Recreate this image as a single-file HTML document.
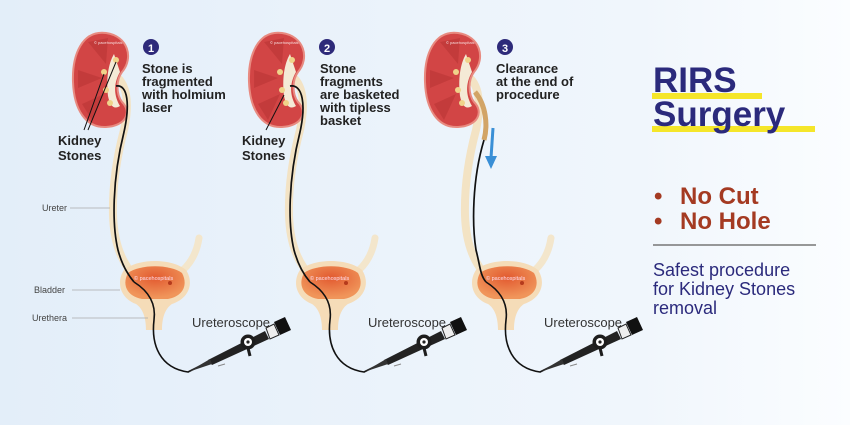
<!DOCTYPE html>
<html><head><meta charset="utf-8"><style>
html,body{margin:0;padding:0;width:850px;height:425px;overflow:hidden}
svg{display:block}
text{font-family:"Liberation Sans",Arial,sans-serif}
</style></head><body>
<svg width="850" height="425" viewBox="0 0 850 425" xmlns="http://www.w3.org/2000/svg">
<defs>
<linearGradient id="bg" x1="0" x2="1" y1="0" y2="0">
<stop offset="0" stop-color="#e3eef9"/><stop offset="0.75" stop-color="#f0f6fc"/><stop offset="1" stop-color="#fbfdff"/>
</linearGradient>
<radialGradient id="bl" cx="0.5" cy="0.35" r="0.6">
<stop offset="0" stop-color="#e25a30"/><stop offset="1" stop-color="#f0955a"/>
</radialGradient>
<g id="panel">
<path d="M183 270 Q196 258 199 238" stroke="#f3e6cc" stroke-width="7" fill="none" stroke-linecap="round"/>
<path d="M118 78 Q132 92 124 130 Q112 175 113 215 Q114 248 128 268" stroke="#f3e3c4" stroke-width="8" fill="none"/>
<path d="M106 33 C82 30 72 55 73 82 C74 110 86 128 106 127 C126 126 132 112 122 102 C116 94 116 80 122 72 C134 58 128 36 106 33Z" fill="#d24545" stroke="#e88a80" stroke-width="2"/>
<path d="M114 54 C108 64 106 80 108 96 C110 106 114 110 120 106 C114 96 113 84 120 72 Z" fill="#f4ead6"/>
<g fill="#b83434" opacity="0.55"><path d="M78 70 L102 78 L78 88Z"/><path d="M82 104 L104 94 L92 120Z"/><path d="M88 42 L106 64 L108 38Z"/></g>
<g fill="#f0d38a"><circle cx="104" cy="72" r="3"/><circle cx="106" cy="90" r="3"/><circle cx="110" cy="103" r="3"/><circle cx="116" cy="60" r="3"/></g>
<text x="94" y="44" font-size="4" fill="#f6dada">© pacehospitals</text>
<path d="M124 270 C138 258 172 258 186 270 C194 282 190 298 172 304 C166 308 162 316 162 330 L146 330 C146 316 142 308 136 304 C120 298 116 282 124 270Z" fill="#f5dcb8"/>
<path d="M128 273 C140 264 170 264 182 273 C188 284 184 296 168 299 L142 299 C126 296 122 284 128 273Z" fill="url(#bl)"/>
<text x="134" y="280" font-size="5.5" fill="#fde">© pacehospitals</text>
<circle cx="170" cy="283" r="2" fill="#b53a1c"/>
<path d="M134 282 C150 292 156 305 154 320 C151 345 160 368 188 372 L212 360" stroke="#111" stroke-width="1.6" fill="none"/>
<path d="M208 360 L265 331 L269 339 L212 365Z" fill="#222"/>
<path d="M188 372 L210 359 L212 364 Z" fill="#333"/>
<path d="M218 366 L225 364" stroke="#888" stroke-width="1"/>
<circle cx="248" cy="342" r="7.5" fill="#1d1d1d"/><circle cx="248" cy="342" r="4" fill="#fff"/><circle cx="248" cy="342" r="1.6" fill="#222"/>
<path d="M248 348 L250 356" stroke="#1d1d1d" stroke-width="3"/>
<path d="M266 328 L274 324 L279 335 L270 339Z" fill="#eee" stroke="#222"/>
<path d="M274 322 L285 317 L291 330 L280 335Z" fill="#111"/>
<text x="192" y="327" font-size="13" fill="#333">Ureteroscope</text>
</g>
</defs>
<rect width="850" height="425" fill="url(#bg)"/>

<use href="#panel"/>
<use href="#panel" x="176"/>
<use href="#panel" x="352"/>

<path d="M116 86 C128 84 130 105 124 132 C112 180 112 225 118 250 C122 265 128 275 134 282" stroke="#111" stroke-width="1.7" fill="none"/>
<path d="M84 130 L104 74 M88 130 L116 62" stroke="#111" stroke-width="1"/>
<path d="M290 86 C303 84 306 105 300 132 C288 180 288 225 294 250 C298 265 304 275 310 282" stroke="#111" stroke-width="1.7" fill="none"/>
<path d="M266 130 L284 95" stroke="#111" stroke-width="1"/>
<path d="M475 92 C486 105 488 125 484 140" stroke="#d2a466" stroke-width="5" fill="none"/>
<path d="M484 140 C472 180 472 225 476 250 C480 265 480 275 486 282" stroke="#111" stroke-width="1.7" fill="none"/>
<path d="M493 128 L491 158" stroke="#3a8fd6" stroke-width="3"/>
<path d="M485 156 L491 169 L497 156Z" fill="#3a8fd6"/>

<g font-size="9" fill="#444">
<text x="42" y="211">Ureter</text><line x1="70" y1="208" x2="110" y2="208" stroke="#aaa" stroke-width="0.8"/>
<text x="34" y="293">Bladder</text><line x1="72" y1="290" x2="120" y2="290" stroke="#aaa" stroke-width="0.8"/>
<text x="32" y="321">Urethera</text><line x1="72" y1="318" x2="148" y2="318" stroke="#aaa" stroke-width="0.8"/>
</g>
<g font-size="13" font-weight="bold" fill="#222">
<text x="58" y="145">Kidney</text><text x="58" y="160">Stones</text>
<text x="242" y="145">Kidney</text><text x="242" y="160">Stones</text>
</g>
<g font-size="13" font-weight="bold" fill="#222">
<circle cx="151" cy="47" r="8" fill="#2e2a7a"/><text x="151" y="52" font-size="11" fill="#fff" text-anchor="middle">1</text>
<text x="142" y="73">Stone is</text><text x="142" y="86">fragmented</text><text x="142" y="99">with holmium</text><text x="142" y="112">laser</text>
<circle cx="327" cy="47" r="8" fill="#2e2a7a"/><text x="327" y="52" font-size="11" fill="#fff" text-anchor="middle">2</text>
<text x="320" y="73">Stone</text><text x="320" y="86">fragments</text><text x="320" y="99">are basketed</text><text x="320" y="112">with tipless</text><text x="320" y="125">basket</text>
<circle cx="505" cy="47" r="8" fill="#2e2a7a"/><text x="505" y="52" font-size="11" fill="#fff" text-anchor="middle">3</text>
<text x="496" y="73">Clearance</text><text x="496" y="86">at the end of</text><text x="496" y="99">procedure</text>
</g>

<rect x="652" y="93" width="110" height="6" fill="#f5e62a"/>
<rect x="652" y="126" width="163" height="6" fill="#f5e62a"/>
<g font-weight="bold" fill="#2b2a7c" font-size="35">
<text x="653" y="92">RIRS</text>
<text x="653" y="126">Surgery</text>
</g>
<g font-size="24" font-weight="bold" fill="#a43a22">
<text x="654" y="204">•</text><text x="680" y="204">No Cut</text>
<text x="654" y="229">•</text><text x="680" y="229">No Hole</text>
</g>
<line x1="653" y1="245" x2="816" y2="245" stroke="#777" stroke-width="1.5"/>
<g font-size="18" fill="#2b2a7c">
<text x="653" y="276">Safest procedure</text><text x="653" y="295">for Kidney Stones</text><text x="653" y="314">removal</text>
</g>
</svg>
</body></html>
